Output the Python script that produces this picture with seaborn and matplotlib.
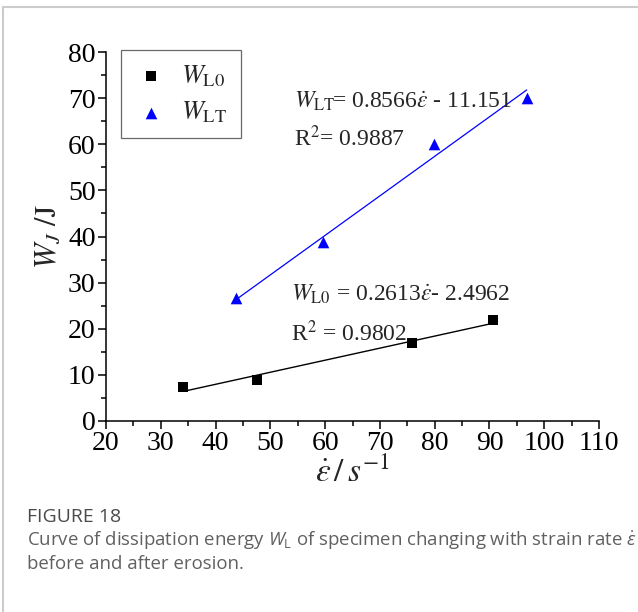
import matplotlib
matplotlib.use("Agg")
import matplotlib.pyplot as plt
from matplotlib.lines import Line2D
from matplotlib.ticker import MultipleLocator
from matplotlib.font_manager import FontProperties
import numpy as np
import pandas as pd
import seaborn as sns

# ---- data ----
rate_L0 = [34.1, 47.6, 75.8, 90.6]
energy_L0 = [7.35, 8.9, 16.9, 21.8]
rate_LT = [43.8, 59.7, 79.8, 96.8]
energy_LT = [26.6, 38.9, 60.1, 70.0]
fit_L0 = (0.2613, -2.4962)
fit_LT = (0.8566, -11.151)
x_ticks = [20, 30, 40, 50, 60, 70, 80, 90, 100, 110]
y_ticks = [0, 10, 20, 30, 40, 50, 60, 70, 80]

sns.set_style("ticks")
plt.rcParams["font.family"] = ["Liberation Serif", "DejaVu Serif"]
plt.rcParams["mathtext.fontset"] = "stix"
# 'custom' math family is used only by the caption (sans-serif)
plt.rcParams["mathtext.rm"] = "Open Sans"
plt.rcParams["mathtext.it"] = "Open Sans:italic"
plt.rcParams["mathtext.bf"] = "Open Sans:bold"

fig = plt.figure(figsize=(6.38, 6.12), dpi=100)
fig.patch.set_facecolor("white")
ax = fig.add_axes([106 / 638, 1 - 421 / 612, (599 - 106) / 638, (421 - 52) / 612])

df0 = pd.DataFrame({"rate": rate_L0, "W": energy_L0})
df1 = pd.DataFrame({"rate": rate_LT, "W": energy_LT})

# fitted lines from the stated regressions
x0 = np.array([min(rate_L0), max(rate_L0)])
x1 = np.array([min(rate_LT), max(rate_LT)])
ax.plot(x0, fit_L0[0] * x0 + fit_L0[1], color="black", lw=1.0, zorder=2)
ax.plot(x1, fit_LT[0] * x1 + fit_LT[1], color="#0000ff", lw=0.9, zorder=2)

sns.scatterplot(data=df0, x="rate", y="W", ax=ax, marker="s", color="black",
                s=45, edgecolor="black", linewidth=0, zorder=3, label=r"$W_{\mathrm{L0}}$")
sns.scatterplot(data=df1, x="rate", y="W", ax=ax, marker="^", color="#0000ff",
                s=70, edgecolor="#0000ff", linewidth=0, zorder=3, label=r"$W_{\mathrm{LT}}$")

ax.set_xlim(20, 110)
ax.set_ylim(0, 80)
ax.set_xticks(x_ticks)
ax.set_yticks(y_ticks)
ax.xaxis.set_minor_locator(MultipleLocator(5))
ax.yaxis.set_minor_locator(MultipleLocator(5))
ax.tick_params(axis="both", which="major", direction="out", length=6, width=1.1,
               labelsize=20, color="black", labelcolor="black", pad=1.5)
ax.tick_params(axis="both", which="minor", direction="out", length=3.5, width=1.1,
               color="black")
for s in ["top", "right"]:
    ax.spines[s].set_visible(False)
for s in ["left", "bottom"]:
    ax.spines[s].set_linewidth(1.1)
    ax.spines[s].set_color("black")

ax.set_xlabel(r"$\dot{\varepsilon}\,/\,s^{-1}$", fontsize=24, labelpad=0)
ax.set_ylabel(r"$W_{J}\ /\mathrm{J}$", fontsize=22, labelpad=4)

leg = ax.legend(loc="upper left", bbox_to_anchor=(0.03, 1.005), frameon=True,
                fancybox=False, edgecolor="#444444", handletextpad=0.5,
                borderpad=0.5, labelspacing=0.4, handlelength=1.3, borderaxespad=0,
                prop=FontProperties(family="Liberation Serif", size=19,
                                    math_fontfamily="stix"))
leg.get_frame().set_linewidth(0.9)

ax.text(54.4, 68.0, r"$W_{\mathrm{LT}}\!$= 0.8566$\dot{\varepsilon}$ - 11.151",
        fontsize=17, ha="left", va="baseline")
ax.text(54.4, 59.6, r"R$^{2}$= 0.9887", fontsize=17, ha="left", va="baseline")
ax.text(53.8, 26.0, r"$W_{\mathrm{L0}}$ = 0.2613$\dot{\varepsilon}$- 2.4962",
        fontsize=17, ha="left", va="baseline")
ax.text(53.8, 17.4, r"R$^{2}$ = 0.9802", fontsize=17, ha="left", va="baseline")

# frame lines of the figure panel
fig.add_artist(Line2D([3 / 638, 1.0], [1 - 7 / 612, 1 - 7 / 612], color="#cccccc", lw=1.5))
fig.add_artist(Line2D([3 / 638, 3 / 638], [0.0, 1 - 7 / 612], color="#cccccc", lw=1.5))

# caption
cap = dict(family=["Open Sans", "DejaVu Sans"], va="center", ha="left",
           math_fontfamily="custom")
fig.text(27 / 638, 1 - 517 / 612, "FIGURE 18", fontsize=14, color="#4a4a4a", **cap)
fig.text(27 / 638, 1 - 541 / 612,
         r"Curve of dissipation energy $W_{\mathrm{L}}$ of specimen changing with strain rate $\dot{\varepsilon}$",
         fontsize=13.4, color="#606060", **cap)
fig.text(27 / 638, 1 - 564 / 612, "before and after erosion.", fontsize=13.4,
         color="#606060", **cap)

fig.savefig("out.png", dpi=100, facecolor="white")
